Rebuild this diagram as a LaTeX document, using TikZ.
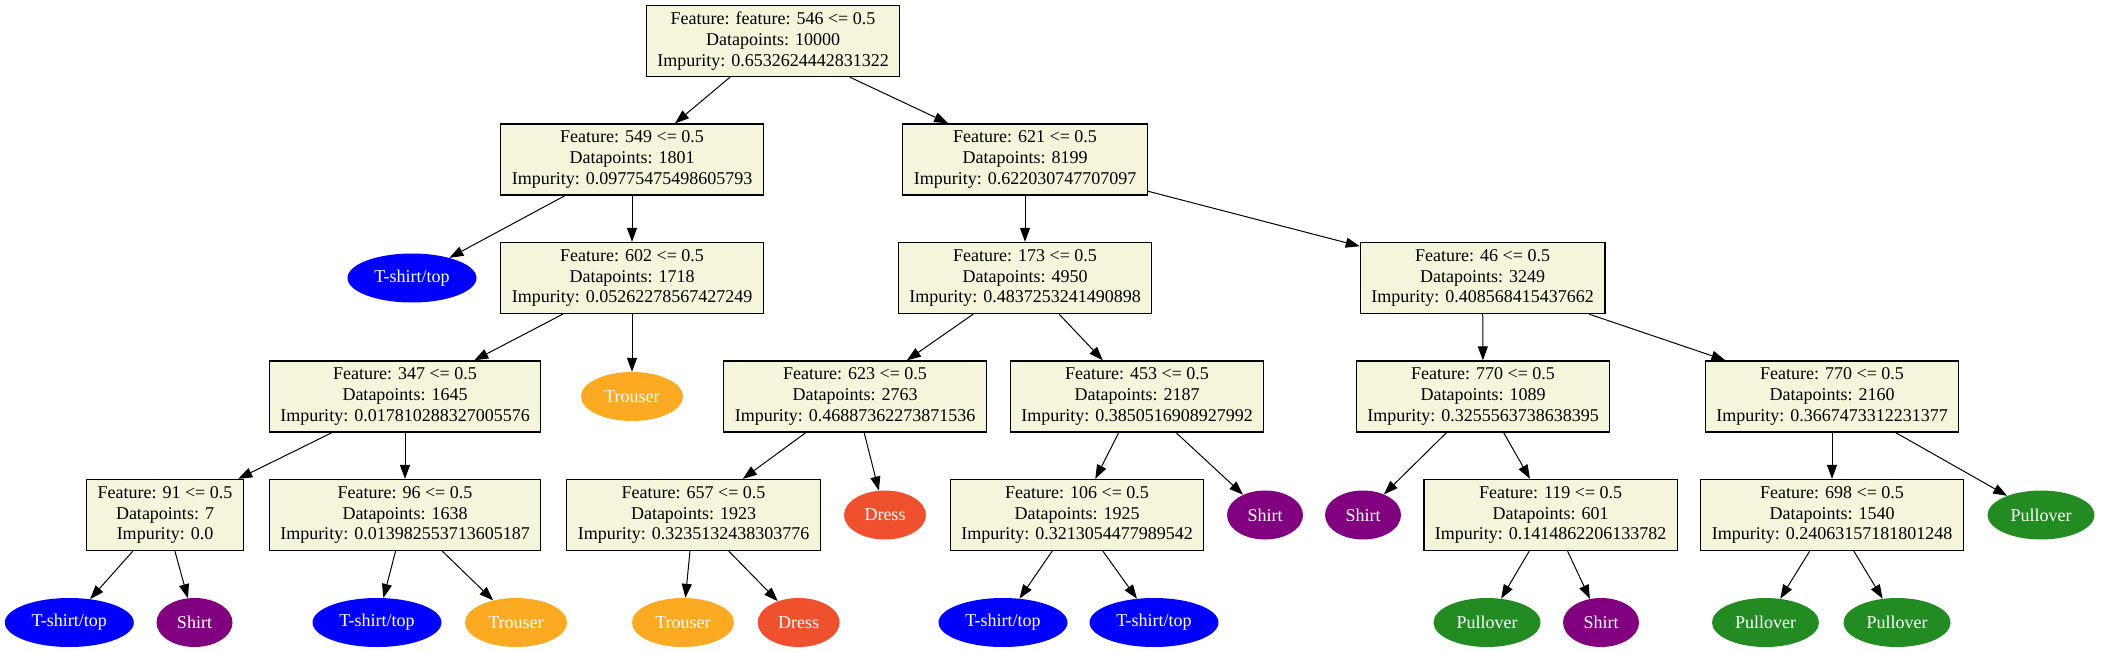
\documentclass[tikz,border=0pt]{standalone}
\usepackage{fontspec}
\setmainfont{Liberation Serif}
\usepackage{xcolor}
\usepackage{tikz}
\usetikzlibrary{arrows.meta,shapes.geometric,positioning}

\definecolor{boxfill}{HTML}{F5F5DC}
\definecolor{tshirtcol}{HTML}{0000FF}
\definecolor{shirtcol}{HTML}{800080}
\definecolor{trousercol}{HTML}{FBAA21}
\definecolor{dresscol}{HTML}{EF502E}
\definecolor{pullovercol}{HTML}{228B22}

\begin{document}
\begin{tikzpicture}[x=1pt,y=-1pt,
    every node/.style={font=\fontsize{18}{20.7}\selectfont},
    split/.style={draw,line width=1.3pt,fill=boxfill,rectangle,align=center,
      inner xsep=11pt,inner ysep=4pt,minimum height=71pt},
    leaf/.style={ellipse,text=white,inner sep=0pt,minimum height=49pt},
    tshirt/.style={leaf,fill=tshirtcol,minimum width=129pt},
    shirt/.style={leaf,fill=shirtcol,minimum width=76pt},
    trouser/.style={leaf,fill=trousercol,minimum width=102pt},
    dress/.style={leaf,fill=dresscol,minimum width=82pt},
    pullover/.style={leaf,fill=pullovercol,minimum width=107pt},
    edge/.style={line width=1pt,-{Triangle[length=14pt,width=10pt]}}]
  \useasboundingbox (0,0) rectangle (2103,652);
  % level 0 and 1
  \node[split] (root) at (773,41) {Feature: feature: 546 <= 0.5\\Datapoints: 10000\\Impurity: 0.6532624442831322};
  \node[split] (n549) at (632,159.5) {Feature: 549 <= 0.5\\Datapoints: 1801\\Impurity: 0.09775475498605793};
  \node[split] (n621) at (1025,159.5) {Feature: 621 <= 0.5\\Datapoints: 8199\\Impurity: 0.622030747707097};
  % level 2
  \node[tshirt] (t1) at (412,278) {T-shirt/top};
  \node[split] (n602) at (632,278) {Feature: 602 <= 0.5\\Datapoints: 1718\\Impurity: 0.05262278567427249};
  \node[split] (n173) at (1025,278) {Feature: 173 <= 0.5\\Datapoints: 4950\\Impurity: 0.4837253241490898};
  \node[split] (n46) at (1482.6,278) {Feature: 46 <= 0.5\\Datapoints: 3249\\Impurity: 0.408568415437662};
  % level 3
  \node[split] (n347) at (405,396.5) {Feature: 347 <= 0.5\\Datapoints: 1645\\Impurity: 0.017810288327005576};
  \node[trouser] (tr1) at (632,396.5) {Trouser};
  \node[split] (n623) at (855,396.5) {Feature: 623 <= 0.5\\Datapoints: 2763\\Impurity: 0.46887362273871536};
  \node[split] (n453) at (1137,396.5) {Feature: 453 <= 0.5\\Datapoints: 2187\\Impurity: 0.3850516908927992};
  \node[split] (n770a) at (1483,396.5) {Feature: 770 <= 0.5\\Datapoints: 1089\\Impurity: 0.3255563738638395};
  \node[split] (n770b) at (1832,396.5) {Feature: 770 <= 0.5\\Datapoints: 2160\\Impurity: 0.3667473312231377};
  % level 4
  \node[split] (n91) at (165,515) {Feature: 91 <= 0.5\\Datapoints: 7\\Impurity: 0.0};
  \node[split] (n96) at (405,515) {Feature: 96 <= 0.5\\Datapoints: 1638\\Impurity: 0.013982553713605187};
  \node[split] (n657) at (693.5,515) {Feature: 657 <= 0.5\\Datapoints: 1923\\Impurity: 0.3235132438303776};
  \node[dress] (d1) at (885,515) {Dress};
  \node[split] (n106) at (1077,515) {Feature: 106 <= 0.5\\Datapoints: 1925\\Impurity: 0.3213054477989542};
  \node[shirt] (s1) at (1265,515) {Shirt};
  \node[shirt] (s2) at (1363,515) {Shirt};
  \node[split] (n119) at (1550.6,515) {Feature: 119 <= 0.5\\Datapoints: 601\\Impurity: 0.1414862206133782};
  \node[split] (n698) at (1832,515) {Feature: 698 <= 0.5\\Datapoints: 1540\\Impurity: 0.24063157181801248};
  \node[pullover] (p1) at (2041,515) {Pullover};
  % level 5
  \node[tshirt] (t2) at (69.3,622.5) {T-shirt/top};
  \node[shirt] (s3) at (194.5,622.5) {Shirt};
  \node[tshirt] (t3) at (377,622.5) {T-shirt/top};
  \node[trouser] (tr2) at (516,622.5) {Trouser};
  \node[trouser] (tr3) at (683,622.5) {Trouser};
  \node[dress] (d2) at (798.6,622.5) {Dress};
  \node[tshirt] (t4) at (1003,622.5) {T-shirt/top};
  \node[tshirt] (t5) at (1154,622.5) {T-shirt/top};
  \node[pullover] (p2) at (1487,622.5) {Pullover};
  \node[shirt] (s4) at (1601,622.5) {Shirt};
  \node[pullover] (p3) at (1765.5,622.5) {Pullover};
  \node[pullover] (p4) at (1897,622.5) {Pullover};
  % edges
  \foreach \a/\b in {root/n549,root/n621,n549/t1,n549/n602,n602/n347,n602/tr1,
      n621/n173,n621/n46,n173/n623,n173/n453,n46/n770a,n46/n770b,
      n347/n91,n347/n96,n623/n657,n623/d1,n453/n106,n453/s1,
      n770a/s2,n770a/n119,n770b/n698,n770b/p1,
      n91/t2,n91/s3,n96/t3,n96/tr2,n657/tr3,n657/d2,n106/t4,n106/t5,
      n119/p2,n119/s4,n698/p3,n698/p4}
    \draw[edge] (\a) -- (\b);
\end{tikzpicture}
\end{document}
